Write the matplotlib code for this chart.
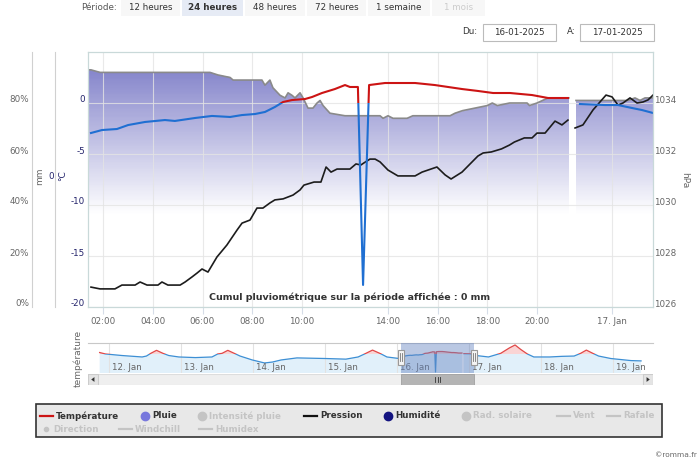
import numpy as np
import matplotlib.pyplot as plt
from matplotlib.patches import Rectangle, Polygon
from matplotlib.lines import Line2D
from matplotlib.path import Path
from matplotlib.colors import LinearSegmentedColormap
from matplotlib.transforms import ScaledTranslation, blended_transform_factory

W, H = 700, 462

# 16-01-2025, hours since midnight (nan = hole in the record)
temp_h = [1.52, 1.96, 2.56, 3.01, 3.69, 4.49, 4.89, 5.70, 6.38, 7.11, 7.59, 8.11, 8.51, 8.91,
          9.24, 9.60, 10.14, 10.47, 10.93, 11.53, 12.0, 12.23, 12.60, 12.84, 13.12, 13.86,
          14.28, 15.09, 15.89, 16.42, 16.98, 17.62, 18.23, 18.91, 19.80, 20.59, 21.65, 21.9,
          22.29, 23.63, 24.24, 24.8, 25.2, 25.64]
temp_c = [-2.94, -2.65, -2.55, -2.16, -1.86, -1.67, -1.76, -1.47, -1.27, -1.37, -1.18, -1.08,
          -0.88, -0.39, 0.10, 0.29, 0.39, 0.59, 0.98, 1.37, 1.76, 1.57, 1.57, -17.84, 1.76,
          1.96, 1.96, 1.96, 1.76, 1.57, 1.37, 1.18, 0.98, 0.98, 0.78, 0.49, 0.49, np.nan,
          -0.10, -0.20, -0.20, -0.49, -0.69, -0.98]

hum_h = [1.44, 1.52, 1.88, 6.30, 6.62, 7.11, 7.23, 8.39, 8.51, 8.71, 8.83, 9.12, 9.32, 9.44,
         9.60, 9.72, 9.92, 10.05, 10.28, 10.51, 10.70, 10.84, 10.98, 11.30, 12.0, 13.63, 13.77,
         14.0, 14.2, 14.77, 15.0, 16.5, 16.7, 17.0, 17.5, 18.0, 18.2, 18.4, 18.9, 19.6, 19.7,
         20.0, 20.59, 21.7, 21.9, 22.08, 24.64, 24.92, 25.12, 25.32, 25.64]
hum_pct = [93, 93, 92, 92, 91, 90, 89, 89, 87, 89, 86, 83, 82, 84, 83, 82, 84, 82, 78, 78, 80,
           81, 79, 76, 75, 75, 74, 75, 74, 74, 75, 75, 76, 77, 78, 79, 80, 79, 80, 80, 79, 80,
           82, 82, np.nan, 81, 81, 82, 81, 82, 82]

pres_h = [1.52, 1.88, 2.48, 2.76, 3.29, 3.49, 3.77, 4.21, 4.37, 4.61, 5.10, 5.30, 5.58, 5.78,
          5.98, 6.22, 6.58, 6.98, 7.39, 7.59, 7.91, 8.19, 8.43, 8.71, 8.91, 9.24, 9.64, 9.92,
          10.09, 10.56, 10.88, 11.12, 11.35, 11.63, 12.23, 12.51, 12.74, 12.88, 13.16, 13.40,
          13.63, 14.0, 14.40, 15.09, 15.37, 15.97, 16.30, 16.54, 16.98, 17.62, 17.83, 18.16,
          18.57, 18.89, 19.09, 19.49, 19.80, 20.0, 20.43, 20.96, 21.33, 21.65, 21.85, 22.03,
          22.45, 22.99, 23.68, 24.0, 24.24, 24.44, 24.72, 25.0, 25.24, 25.44, 25.64]
pres_hpa = [1026.78, 1026.71, 1026.71, 1026.86, 1026.86, 1026.98, 1026.86, 1026.86, 1026.98,
            1026.86, 1026.86, 1026.98, 1027.18, 1027.33, 1027.49, 1027.37, 1027.96, 1028.43,
            1029.02, 1029.29, 1029.41, 1029.88, 1029.88, 1030.08, 1030.20, 1030.24, 1030.39,
            1030.59, 1030.78, 1030.90, 1030.90, 1031.49, 1031.29, 1031.41, 1031.41, 1031.61,
            1031.57, 1031.65, 1031.80, 1031.80, 1031.69, 1031.37, 1031.14, 1031.14, 1031.29,
            1031.49, 1031.18, 1031.02, 1031.29, 1031.92, 1032.04, 1032.08, 1032.20, 1032.35,
            1032.47, 1032.63, 1032.63, 1032.82, 1032.82, 1033.29, 1033.14, 1033.33, np.nan,
            1033.02, 1033.14, 1033.73, 1034.31, 1034.24, 1033.92, 1034.0, 1034.20, 1034.0,
            1034.04, 1034.12, 1034.31]

# navigator: temperature over the week, days since 12-01-2025 00:00
nav_before_d = [-0.13, -0.05, 0.18, 0.46, 0.52, 0.58, 0.66, 0.75, 0.83, 0.97, 1.2, 1.43, 1.51,
                1.57, 1.65, 1.74, 1.82, 1.99, 2.16, 2.27, 2.39, 2.61, 3.01, 3.29, 3.46, 3.55,
                3.66, 3.78, 3.86, 4.03]
nav_before_c = [1.0, -0.4, -1.9, -3.3, -2.4, 0.2, 3.1, 0.2, -1.9, -3.3, -3.9, -3.3, -0.4, 0.2,
                3.1, 0.2, -2.4, -6.2, -9.1, -8.2, -6.2, -4.2, -4.8, -5.4, -3.3, -0.4, 3.35,
                -0.4, -3.3, -4.8]
nav_after_d = [5.10, 5.27, 5.44, 5.56, 5.64, 5.72, 5.81, 5.90, 6.12, 6.29, 6.46, 6.55, 6.63,
               6.72, 6.80, 6.97, 7.25, 7.39]
nav_after_c = [-1.9, -3.3, 0.2, 5.4, 8.3, 3.9, -0.4, -3.3, -3.3, -2.7, -2.4, 0.2, 3.35, 0.2,
               -2.4, -4.8, -6.8, -7.1]
nav_days = ["12. Jan", "13. Jan", "14. Jan", "15. Jan", "16. Jan", "17. Jan", "18. Jan", "19. Jan"]

x_ticks = [2, 4, 6, 8, 10, 14, 16, 18, 20, 24]
x_labels = ["02:00", "04:00", "06:00", "08:00", "10:00", "14:00", "16:00", "18:00", "20:00", "17. Jan"]
temp_ticks = [-20, -15, -10, -5, 0]
hum_ticks = [0, 20, 40, 60, 80]
pres_ticks = [1026, 1028, 1030, 1032, 1034]

periods = ["12 heures", "24 heures", "48 heures", "72 heures", "1 semaine", "1 mois"]

# ordinal axis: Highcharts squeezes the holes of the record
ord_h = [-100, 1.4, 2, 10, 14, 20, 24, 25.64, 100]
ord_u = [88 - 101.4 * 25, 88, 103, 302, 388, 537, 612, 653, 653 + 74.36 * 25]


def fwd(h):
    return np.interp(h, ord_h, ord_u)


def inv(u):
    return np.interp(u, ord_u, ord_h)


def fx(x):
    return x / W


def fy(y):
    return 1 - y / H


NAVY = "#23236b"
GREY = "#666666"
plt.rcParams["font.family"] = ["DejaVu Sans"]

fig = plt.figure(figsize=(7, 4.62), dpi=100)

# ---------------- main chart ----------------
ax = fig.add_axes([fx(88), fy(307), 565 / W, 255 / H])
ax.set_xscale("function", functions=(fwd, inv))
ax_r = ax.twinx()
ax_p = ax.twinx()
ax_t = ax.twinx()
t0, t1 = 1.4, 25.64

# humidity area with a fading gradient
hh = np.array(hum_h)
hv = np.array(hum_pct, dtype=float)
area = ax.fill_between(hh, hv, 0, facecolor="none", edgecolor="none")
clip = Path.make_compound_path(*area.get_paths())
levels = np.linspace(0, 100, 201)
shade = np.clip((levels[:-1] - 36) / (95 - 36), 0, 1)[:, None]
cmap = LinearSegmentedColormap.from_list("hum", ["#ffffff", "#8181c9"])
mesh = ax.pcolormesh([t0, t1], levels, shade, cmap=cmap, vmin=0, vmax=1, zorder=1)
mesh.set_clip_path(clip, ax.transData)
ax.plot(hh, hv, color="#8a8a8a", lw=1.2, zorder=3)
ax.set_xlim(t0, t1)
ax.set_ylim(0, 100)

# pressure
ax_p.plot(pres_h, pres_hpa, color="#1c1c1c", lw=1.2)
ax_p.set_ylim(1026, 1036)

# temperature: red above 0 degC, blue below
th = np.array(temp_h)
tc = np.array(temp_c)
warm = ax_t.plot(th, tc, color="#cc1414", lw=1.5)[0]
cold = ax_t.plot(th, tc, color="#1f6fd2", lw=1.5)[0]
tr = blended_transform_factory(ax_t.transAxes, ax_t.transData)
warm.set_clip_path(Rectangle((0, 0), 1, 60, transform=tr))
cold.set_clip_path(Rectangle((0, -60), 1, 60, transform=tr))
ax_t.set_ylim(-20, 5)
ax_t.text(0.4637, 0.04, "Cumul pluviométrique sur la période affichée : 0 mm",
          transform=ax_t.transAxes, ha="center", va="center", fontsize=6.8,
          fontweight="bold", color="#333333")

ax_r.set_ylim(-1, 1)

for a in (ax, ax_r, ax_p, ax_t):
    for s in a.spines.values():
        s.set_visible(False)
for s in ax_t.spines.values():
    s.set_visible(True)
    s.set_color("#c9d9d9")
    s.set_linewidth(0.9)

ax.spines["left"].set_visible(True)
ax.spines["left"].set_position(("outward", 56 * 0.72))
ax.spines["left"].set_color("#d0d0d0")
ax_r.yaxis.tick_left()
ax_r.spines["left"].set_visible(True)
ax_r.spines["left"].set_position(("outward", 33 * 0.72))
ax_r.spines["left"].set_color("#d0d0d0")
ax_t.yaxis.tick_left()

ax.set_yticks(hum_ticks, [f"{v}%" for v in hum_ticks])
ax_r.set_yticks([0], ["0"])
ax_t.set_yticks(temp_ticks, [str(v) for v in temp_ticks])
ax_p.set_yticks(pres_ticks, [str(v) for v in pres_ticks])
ax.tick_params(axis="y", length=0, pad=2, labelsize=6.3, labelcolor=GREY)
ax_r.tick_params(axis="y", length=0, pad=1, labelsize=6.3, labelcolor=NAVY)
ax_t.tick_params(axis="y", length=0, pad=2, labelsize=6.3, labelcolor=NAVY)
ax_p.tick_params(axis="y", length=0, pad=1, labelsize=6.3, labelcolor=GREY)
ax.set_xticks(x_ticks, x_labels)
ax.tick_params(axis="x", length=5, color="#d6dde8", pad=2, labelsize=6.3, labelcolor=GREY)

lift = ScaledTranslation(0, 0.04, fig.dpi_scale_trans)
for a in (ax, ax_r, ax_t, ax_p):
    for lab in a.get_yticklabels():
        lab.set_transform(lab.get_transform() + lift)

ax.set_axisbelow(False)
ax.grid(True, color="#e4e4e4", lw=0.8, alpha=0.8)

fig.text(fx(40), fy(176), "mm", rotation=90, ha="center", va="center", fontsize=6.5, color=GREY)
fig.text(fx(63), fy(176), "°C", rotation=90, ha="center", va="center", fontsize=6.5, color=NAVY)
fig.text(fx(685), fy(180), "hPa", rotation=270, ha="center", va="center", fontsize=6.5, color=GREY)

# ---------------- navigator ----------------
nav_d = np.concatenate([nav_before_d, 4 + th / 24, nav_after_d])
nav_c = np.concatenate([nav_before_c, tc, nav_after_c])
n_lo, n_hi = -18.8, 10.2
axn = fig.add_axes([fx(88), fy(373), 565 / W, 30 / H])
axn.set_xlim(-0.2917, 7.5556)
axn.set_ylim(n_lo, n_hi)
ntr = blended_transform_factory(axn.transAxes, axn.transData)
f_cold = axn.fill_between(nav_d, nav_c, n_lo, facecolor="#e1f0fa", edgecolor="none")
f_warm = axn.fill_between(nav_d, nav_c, n_lo, facecolor="#fad4d4", edgecolor="none")
l_cold = axn.plot(nav_d, nav_c, color="#3d8fd4", lw=0.9)[0]
l_warm = axn.plot(nav_d, nav_c, color="#e04848", lw=0.9)[0]
for art in (f_warm, l_warm):
    art.set_clip_path(Rectangle((0, 0), 1, 60, transform=ntr))
for art in (f_cold, l_cold):
    art.set_clip_path(Rectangle((0, -60), 1, 60, transform=ntr))
for s in axn.spines.values():
    s.set_visible(False)
axn.spines["top"].set_visible(True)
axn.spines["top"].set_color("#c8c8c8")
axn.set_xticks(range(len(nav_days)))
axn.set_yticks([])
axn.tick_params(axis="x", length=0, labelbottom=False)
axn.grid(True, axis="x", color="#e2e2e2", lw=0.8)
dtr = blended_transform_factory(axn.transData, axn.transAxes)
for i, name in enumerate(nav_days):
    axn.text(i + 0.04, 0.2, name, transform=dtr, ha="left", va="center", fontsize=6.3, color=GREY)

d0, d1 = 4 + t0 / 24, 4 + t1 / 24
axn.add_patch(Rectangle((d0, 0), d1 - d0, 1, transform=dtr, facecolor="#6685c2", alpha=0.45,
                        edgecolor="none", zorder=5))
for d in (d0, d1):
    axn.add_patch(Rectangle((d - 0.045, 0.28), 0.09, 0.5, transform=dtr, facecolor="#f4f4f4",
                            edgecolor="#999999", lw=0.8, zorder=6))
    for off in (-0.014, 0.014):
        axn.add_line(Line2D([d + off] * 2, [0.4, 0.66], transform=dtr, color="#777777", lw=0.6,
                            zorder=7))
fig.text(fx(78), fy(358), "température", rotation=90, ha="center", va="center", fontsize=6.5,
         color=GREY)

# scrollbar
axs = fig.add_axes([fx(88), fy(385), 565 / W, 11 / H])
axs.set_xlim(axn.get_xlim())
axs.set_ylim(0, 1)
axs.axis("off")
xa, xb = axn.get_xlim()
btn = 10 / 72
axs.add_patch(Rectangle((xa, 0), xb - xa, 1, facecolor="#efefef", edgecolor="#dddddd", lw=0.8))
axs.add_patch(Rectangle((d0, 0.02), d1 - d0, 0.96, facecolor="#b4b4b4", edgecolor="#a0a0a0", lw=0.6))
for off in (-0.03, 0, 0.03):
    axs.plot([(d0 + d1) / 2 + off] * 2, [0.3, 0.7], color="#333333", lw=0.6)
for left in (True, False):
    x0 = xa if left else xb - btn
    axs.add_patch(Rectangle((x0, 0), btn, 1, facecolor="#e4e4e4", edgecolor="#cccccc", lw=0.8))
    c = x0 + btn / 2
    s = -1 if left else 1
    axs.add_patch(Polygon([[c + s * 0.025, 0.5], [c - s * 0.02, 0.72], [c - s * 0.02, 0.28]],
                          closed=True, facecolor="#333333", edgecolor="none"))

# ---------------- period buttons and dates ----------------
fig.text(fx(81), fy(8), "Période:", ha="left", va="center", fontsize=6.3, color="#555555")
btn_x = [(121, 180), (182, 243), (245, 305), (307, 366), (368, 430), (432, 485)]
for (x0, x1), label in zip(btn_x, periods):
    chosen = label == "24 heures"
    fig.patches.append(Rectangle((fx(x0), fy(16)), (x1 - x0) / W, 16 / H, transform=fig.transFigure,
                                 facecolor="#e6ebf5" if chosen else "#f7f7f7", edgecolor="none"))
    fig.text(fx((x0 + x1) / 2), fy(8), label, ha="center", va="center", fontsize=6.3,
             fontweight="bold" if chosen else "normal",
             color="#cccccc" if label == "1 mois" else "#333333")

for lab, x_lab, (x0, x1), day in (("Du:", 477, (483, 556), "16-01-2025"),
                                  ("A:", 576, (580, 654), "17-01-2025")):
    fig.text(fx(x_lab), fy(32), lab, ha="right", va="center", fontsize=6.3, color="#333333")
    fig.patches.append(Rectangle((fx(x0), fy(41)), (x1 - x0) / W, 17 / H, transform=fig.transFigure,
                                 facecolor="white", edgecolor="#bbbbbb", lw=0.8))
    fig.text(fx((x0 + x1) / 2), fy(32.5), day, ha="center", va="center", fontsize=6.3,
             color="#333333")

# ---------------- legend ----------------
fig.patches.append(Rectangle((fx(36), fy(437)), 626 / W, 33 / H, transform=fig.transFigure,
                             facecolor="#e8e8e8", edgecolor="#333333", lw=1.2))
ON, OFF = "#333333", "#c4c4c4"
legend_items = [
    (40, 416, "line", "#cc1414", "Température", ON),
    (141, 416, "dot", "#7878dd", "Pluie", ON),
    (198, 416, "dot", OFF, "Intensité pluie", OFF),
    (304, 416, "line", "#111111", "Pression", ON),
    (384, 416, "dot", "#131380", "Humidité", ON),
    (462, 416, "dot", OFF, "Rad. solaire", OFF),
    (557, 416, "line", OFF, "Vent", OFF),
    (607, 416, "line", OFF, "Rafale", OFF),
    (42, 429, "small", OFF, "Direction", OFF),
    (119, 429, "line", OFF, "Windchill", OFF),
    (199, 429, "line", OFF, "Humidex", OFF),
]
for x, y, kind, col, label, tcol in legend_items:
    if kind == "line":
        fig.lines.append(Line2D([fx(x), fx(x + 13)], [fy(y), fy(y)], transform=fig.transFigure,
                                color=col, lw=1.6))
        tx = x + 16
    else:
        ms = 6 if kind == "dot" else 3
        fig.lines.append(Line2D([fx(x + 4)], [fy(y)], transform=fig.transFigure, marker="o",
                                ms=ms, color=col, lw=0))
        tx = x + 11
    fig.text(fx(tx), fy(y), label, ha="left", va="center", fontsize=6.3, fontweight="bold",
             color=tcol)

fig.text(fx(697), fy(455), "©romma.fr", ha="right", va="center", fontsize=5.3, color=GREY)

fig.savefig("out.png", dpi=100)
